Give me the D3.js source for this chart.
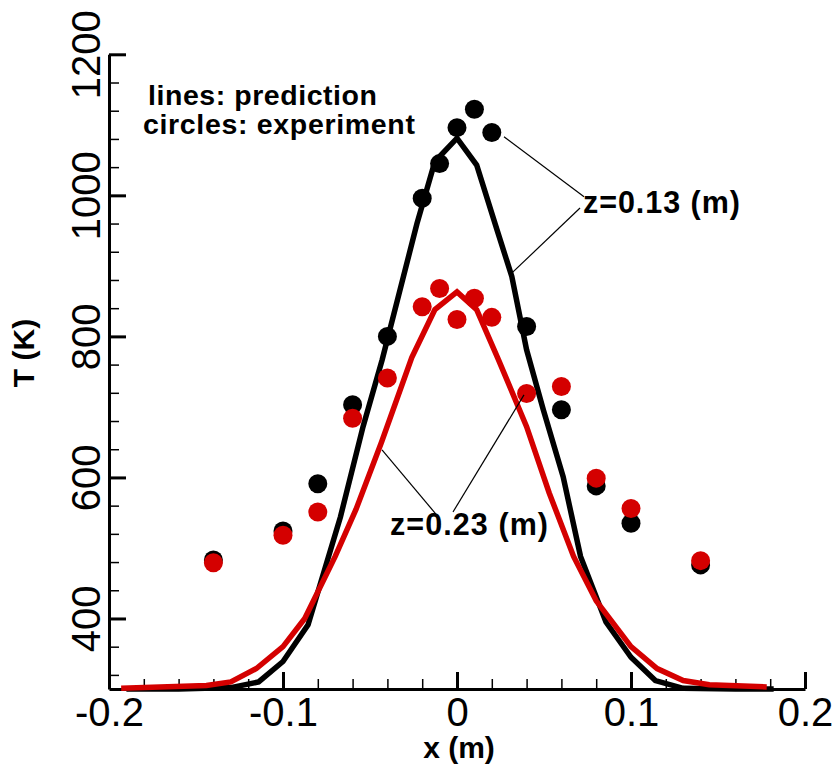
<!DOCTYPE html>
<html>
<head>
<meta charset="utf-8">
<script src="https://cdn.jsdelivr.net/npm/d3@7"></script>
<style>
  body { margin: 0; background: #fff; }
  text { font-family: "Liberation Sans", Arial, Helvetica, sans-serif; fill: #000; }
</style>
</head>
<body>
<div id="chart"></div>
<script>
// experiment (circles)
var expX = [-0.14, -0.1, -0.08, -0.06, -0.04, -0.02, -0.01, 0, 0.01, 0.02, 0.04, 0.06, 0.08, 0.1, 0.14];
var expT013 = [483, 524, 591, 703, 800, 996, 1045, 1096, 1122, 1089, 814, 696, 588, 535, 476];
var expT023 = [479, 518, 551, 684, 741, 842, 868, 824, 854, 827, 719, 729, 599, 556, 482];

// prediction (lines)
var predX013 = [-0.19, -0.16, -0.13, -0.114, -0.1, -0.0856, -0.067, -0.054, -0.043, -0.023, -0.0127, 0, 0.0113, 0.023, 0.0315, 0.04, 0.0496, 0.061, 0.071, 0.0856, 0.1, 0.114, 0.13, 0.16, 0.182];
var predT013 = [300, 300, 302, 310, 339, 391, 544, 672, 767, 960, 1048, 1081, 1043, 951, 885, 781, 696, 601, 488, 395, 345, 312, 301, 300, 300];
var predX023 = [-0.193, -0.144, -0.13, -0.1153, -0.1, -0.0875, -0.07, -0.058, -0.0434, -0.026, -0.0127, 0, 0.0113, 0.0238, 0.04, 0.053, 0.067, 0.08, 0.1, 0.115, 0.13, 0.145, 0.178];
var predT023 = [301, 305, 310, 329, 360, 400, 488, 555, 650, 770, 838, 863, 838, 767, 672, 578, 488, 425, 360, 329, 312, 306, 303];

var xMajor = [-0.2, -0.1, 0, 0.1, 0.2];
var yMajor = [400, 600, 800, 1000, 1200];

var black = "#000", red = "#d40000";

var xScale = d3.scaleLinear().domain([-0.2, 0.2]).range([109, 805]),
    yScale = d3.scaleLinear().domain([300, 1200]).range([689, 54.3]);

var svg = d3.select("#chart").append("svg")
    .attr("width", 836)
    .attr("height", 766);

// minor ticks
var xMinor = d3.range(-0.2, 0.2001, 0.02).map(function(d) { return +d.toFixed(2); });
var yMinor = d3.range(320, 1200.1, 40);

svg.append("g")
    .attr("transform", "translate(0,689)")
    .call(d3.axisBottom(xScale).tickValues(xMinor).tickSize(-10).tickFormat(""))
    .call(function(g) { g.select(".domain").remove(); })
    .selectAll("line").attr("stroke-width", 1.5);

svg.append("g")
    .attr("transform", "translate(109,0)")
    .call(d3.axisLeft(yScale).tickValues(yMinor).tickSize(-10).tickFormat(""))
    .call(function(g) { g.select(".domain").remove(); })
    .selectAll("line").attr("stroke-width", 1.5);

// major axes
var gx = svg.append("g")
    .attr("transform", "translate(0,689)")
    .call(d3.axisBottom(xScale).tickValues(xMajor).tickSize(-17).tickSizeOuter(0).tickPadding(9)
      .tickFormat(function(d) { return d === 0 ? "0" : String(d); }));
gx.select(".domain").attr("stroke-width", 3);
gx.selectAll(".tick line").attr("stroke-width", 3);
gx.selectAll("text").attr("font-size", 40).attr("font-family", null);

var gy = svg.append("g")
    .attr("transform", "translate(109,0)")
    .call(d3.axisLeft(yScale).tickValues(yMajor).tickSize(-17).tickSizeOuter(0)
      .tickFormat(d3.format("d")));
gy.select(".domain").attr("stroke-width", 3);
gy.selectAll(".tick line").attr("stroke-width", 3);
gy.selectAll("text")
    .attr("font-size", 40).attr("font-family", null)
    .attr("transform", "rotate(-90)")
    .attr("x", 0).attr("y", -9).attr("dy", 0)
    .attr("text-anchor", "middle");

// axis titles
svg.append("text")
    .attr("transform", "translate(34,353) rotate(-90)")
    .attr("text-anchor", "middle")
    .attr("font-size", 30).attr("font-weight", "bold")
    .text("T (K)");

svg.append("text")
    .attr("x", 459).attr("y", 758)
    .attr("text-anchor", "middle")
    .attr("font-size", 30).attr("font-weight", "bold")
    .text("x (m)");

// lines
var line = d3.line()
    .x(function(d) { return xScale(d[0]); })
    .y(function(d) { return yScale(d[1]); });

svg.append("path")
    .datum(d3.zip(predX013, predT013))
    .attr("d", line)
    .attr("fill", "none").attr("stroke", black).attr("stroke-width", 5.5);

svg.append("path")
    .datum(d3.zip(predX023, predT023))
    .attr("d", line)
    .attr("fill", "none").attr("stroke", red).attr("stroke-width", 5.5);

// circles
svg.selectAll(".dot013")
    .data(d3.zip(expX, expT013))
  .enter().append("circle")
    .attr("class", "dot013")
    .attr("r", 9.5)
    .attr("cx", function(d) { return xScale(d[0]); })
    .attr("cy", function(d) { return yScale(d[1]); })
    .attr("fill", black);

svg.selectAll(".dot023")
    .data(d3.zip(expX, expT023))
  .enter().append("circle")
    .attr("class", "dot023")
    .attr("r", 9.5)
    .attr("cx", function(d) { return xScale(d[0]); })
    .attr("cy", function(d) { return yScale(d[1]); })
    .attr("fill", red);

// legend text
svg.append("text")
    .attr("x", xScale(-0.1776)).attr("y", yScale(1128))
    .attr("font-size", 28.5).attr("font-weight", "bold")
    .attr("textLength", 229)
    .text("lines: prediction");
svg.append("text")
    .attr("x", xScale(-0.1805)).attr("y", yScale(1087))
    .attr("font-size", 28.5).attr("font-weight", "bold")
    .attr("textLength", 272)
    .text("circles: experiment");

// callouts (leader lines in data units)
var leaders = [
  [[0.027, 1083], [0.073, 998]],
  [[0.0707, 982], [0.0316, 890]],
  [[-0.0121, 548], [-0.0431, 639]],
  [[-0.0023, 551], [0.0385, 717]]
];
svg.selectAll(".leader")
    .data(leaders)
  .enter().append("line")
    .attr("class", "leader")
    .attr("x1", function(d) { return xScale(d[0][0]); })
    .attr("y1", function(d) { return yScale(d[0][1]); })
    .attr("x2", function(d) { return xScale(d[1][0]); })
    .attr("y2", function(d) { return yScale(d[1][1]); })
    .attr("stroke", black).attr("stroke-width", 1.2);

svg.append("text")
    .attr("x", xScale(0.0724)).attr("y", yScale(975))
    .attr("font-size", 30.5).attr("font-weight", "bold")
    .attr("textLength", 157)
    .text("z=0.13 (m)");

svg.append("text")
    .attr("x", xScale(-0.0385)).attr("y", yScale(518))
    .attr("font-size", 30.5).attr("font-weight", "bold")
    .attr("textLength", 158)
    .text("z=0.23 (m)");
</script>
</body>
</html>
